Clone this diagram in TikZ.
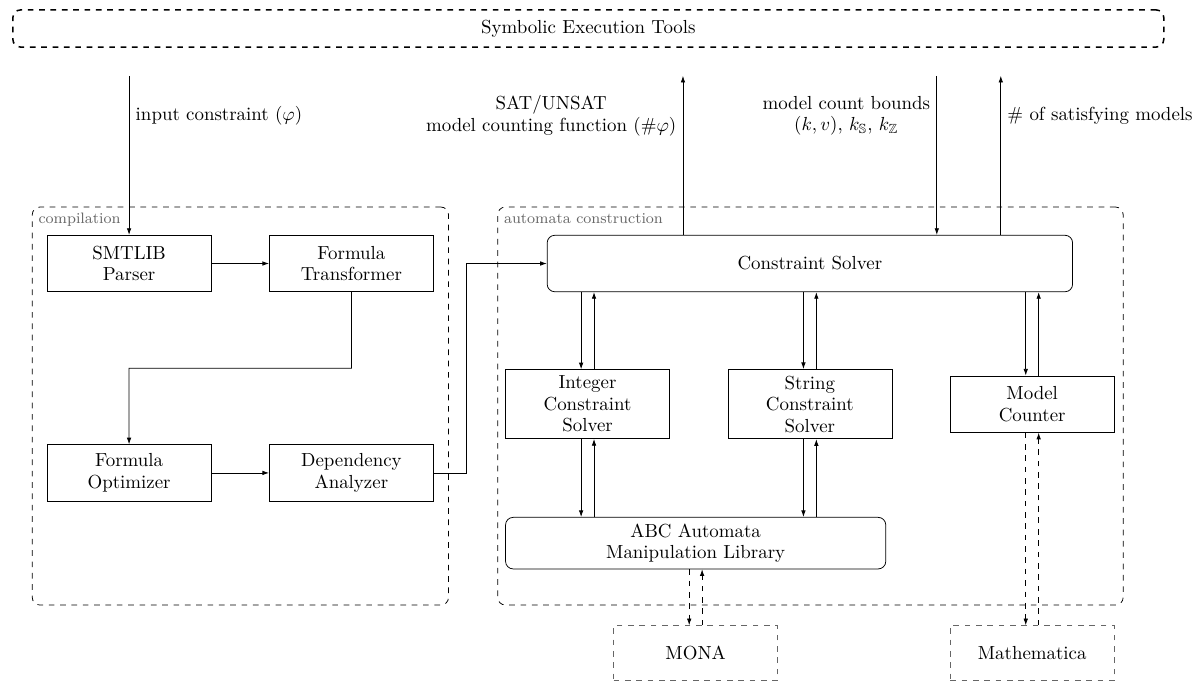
\documentclass[tikz,border=0pt]{standalone}
\usepackage{amssymb}
\usetikzlibrary{positioning,calc,arrows.meta}

\begin{document}
\begin{tikzpicture}[>={Latex[length=3.5pt,width=2.4pt]}, node distance=1.43cm and 1.07cm,
	every node/.style={font=\fontsize{10}{11.4}\selectfont},
	block/.style={draw,rectangle,align=center,minimum width=3.05cm,minimum height=1.05cm},
	roundblock/.style={block,rounded corners},
	extblock/.style={block,dashed,draw=black!60,minimum height=1.02cm},
	group/.style={draw,dashed,rounded corners,minimum height=7.40cm},
	grouplabel/.style={anchor=north west,font=\footnotesize,text=black!60}]
	\useasboundingbox (0,0) rectangle (22.37,-12.66);

	\node[draw,thick,dashed,rounded corners,minimum width=21.40cm,minimum height=0.69cm] (tools) at (10.94,-0.53) {Symbolic Execution Tools};

	% the two groups
	\node[group,minimum width=7.74cm]	(comp)	at (4.47,-7.55)	{};
	\node[group,minimum width=11.63cm]	(autobox)	at (15.07,-7.55)	{};
	\node[grouplabel]	(complabel)	at (comp.north west)	{compilation};
	\node[grouplabel]	(autolabel)	at (autobox.north west)	{automata construction};

	% compilation
	\node[block]	(parser)	at (2.40,-4.90)	{SMTLIB\\Parser};
	\node[block]	(trans)	[right=of parser]	{Formula\\Transformer};
	\node[block]	(opt)	[below=2.83cm of parser]	{Formula\\Optimizer};
	\node[block]	(ana)	[right=of opt]	{Dependency\\Analyzer};

	% automata construction
	\node[roundblock,minimum width=9.77cm]	(cs)	at (15.06,-4.90)	{Constraint Solver};
	\node[block]	(strsolver)	[below=of cs]	{String\\Constraint\\Solver};
	\node[block]	(intsolver)	[left=of strsolver]	{Integer\\Constraint\\Solver};
	\node[block]	(counter)	[right=of strsolver]	{Model\\Counter};
	\node[roundblock,minimum width=7.07cm,minimum height=0pt]	(abc)	[below=1.45cm of intsolver.south west,anchor=north west]	{ABC Automata\\Manipulation Library};
	\node[extblock]	(mona)	[below=1.04cm of abc]	{MONA};
	\node[extblock]	(math)	at (counter |- mona)	{Mathematica};

	\coordinate (inp)	at (parser.north |- 0,-1.41);
	\coordinate (satout)	at (12.70,-1.41);
	\coordinate (boundsin)	at (17.42,-1.41);
	\coordinate (countout)	at (18.61,-1.41);
	\coordinate (bend)	at ($(trans.south)!0.5!(trans.south |- opt.north)$);

	\path[->]
		(parser)	edge	(trans)
		(opt)	edge	(ana);
	\draw[->] (trans.south) -- (bend) -| (opt.north);
	\draw[->] (ana.east) -- ++(0.6,0) |- (cs.west);

	\draw[->] (inp) -- node[pos=0.25,right] {input constraint ($\varphi$)} (parser);
	\draw[->] (cs.north -| satout) -- node[pos=0.75,left,align=center] {SAT/UNSAT\\model counting function (\#$\varphi$)} (satout);
	\draw[->] (boundsin) -- node[pos=0.25,left,align=center] {model count bounds\\$(k,v)$, $k_{\mathbb{S}}$, $k_{\mathbb{Z}}$} (cs.north -| boundsin);
	\draw[->] (cs.north -| countout) -- node[pos=0.75,right] {\# of satisfying models} (countout);

	% two way links
	\foreach \src/\dst in {cs/intsolver, cs/strsolver, cs/counter} {
		\draw[->,transform canvas={xshift=-1.2mm}] (\dst.north |- \src.south) -- (\dst.north);
		\draw[->,transform canvas={xshift=1.2mm}] (\dst.north) -- (\dst.north |- \src.south);
	}
	\foreach \src/\dst in {intsolver/abc, strsolver/abc} {
		\draw[->,transform canvas={xshift=-1.2mm}] (\src.south) -- (\src.south |- \dst.north);
		\draw[->,transform canvas={xshift=1.2mm}] (\src.south |- \dst.north) -- (\src.south);
	}
	\foreach \src/\dst in {abc/mona, counter/math} {
		\draw[->,dashed,transform canvas={xshift=-1.2mm}] (\src.south) -- (\src.south |- \dst.north);
		\draw[->,dashed,transform canvas={xshift=1.2mm}] (\src.south |- \dst.north) -- (\src.south);
	}
\end{tikzpicture}
\end{document}
